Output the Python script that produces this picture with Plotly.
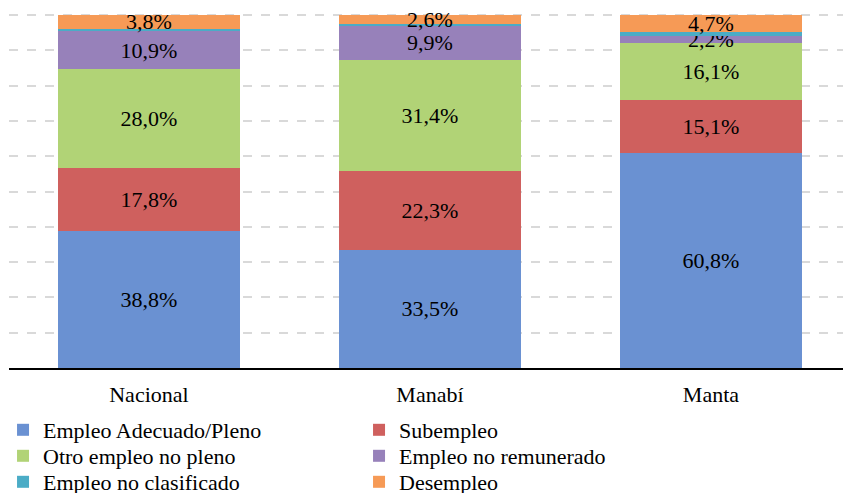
import plotly.graph_objects as go

categories = ["Nacional", "Manabí", "Manta"]
series_names = ["Empleo Adecuado/Pleno", "Subempleo", "Otro empleo no pleno",
                "Empleo no remunerado", "Empleo no clasificado", "Desempleo"]
adecuado = [38.8, 33.5, 60.8]
subempleo = [17.8, 22.3, 15.1]
otro = [28.0, 31.4, 16.1]
no_remunerado = [10.9, 9.9, 2.2]
no_clasificado = [0.7, 0.3, 1.1]
desempleo = [3.8, 2.6, 4.7]
show_labels = [True, True, True, True, False, True]

colors = ["#6a91d2", "#cf605e", "#b1d376", "#9781ba", "#4bacc6", "#f69a56"]
values = [adecuado, subempleo, otro, no_remunerado, no_clasificado, desempleo]
legend_rows = ["legend", "legend", "legend2", "legend2", "legend3", "legend3"]

FONT = "Liberation Serif"

fig = go.Figure()
for name, vals, col, lab, lg in zip(series_names, values, colors, show_labels, legend_rows):
    fig.add_trace(go.Bar(
        name=name, x=categories, y=vals,
        marker=dict(color=col, line=dict(width=0)),
        text=[f"{v:.1f}%".replace(".", ",") for v in vals] if lab else None,
        textposition="inside" if lab else "none",
        insidetextanchor="middle",
        textangle=0,
        textfont=dict(family=FONT, size=22, color="#000000"),
        hoverinfo="skip",
        legend=lg,
    ))

def leg(yc):
    return dict(orientation="h", xref="container", yref="container",
                x=0.0036, xanchor="left", y=1 - yc / 493, yanchor="middle",
                entrywidth=311, entrywidthmode="pixels", traceorder="normal",
                font=dict(family=FONT, size=22), bgcolor="rgba(0,0,0,0)")

fig.update_layout(
    barmode="stack",
    bargap=0.35,
    width=843, height=493,
    margin=dict(l=9, r=0, t=13, b=125),
    paper_bgcolor="white", plot_bgcolor="white",
    font=dict(family=FONT, size=22, color="#000000"),
    uniformtext=dict(minsize=22, mode="show"),
    showlegend=True,
    legend=leg(430), legend2=leg(456), legend3=leg(482),
    xaxis=dict(range=[-0.498, 2.47], showgrid=False, showline=True, linecolor="#000000",
               linewidth=2, ticks="", ticklabelstandoff=6,
               tickfont=dict(family=FONT, size=22)),
    yaxis=dict(range=[0, 100.6], showticklabels=False, showline=False, zeroline=False,
               showgrid=True, gridcolor="#d9d9d9", griddash="dash", gridwidth=1.5,
               dtick=10, ticks=""),
)

fig.write_html("out.html", config={"displayModeBar": False},
               post_script="document.body.style.margin='0';document.body.style.overflow='hidden';")
